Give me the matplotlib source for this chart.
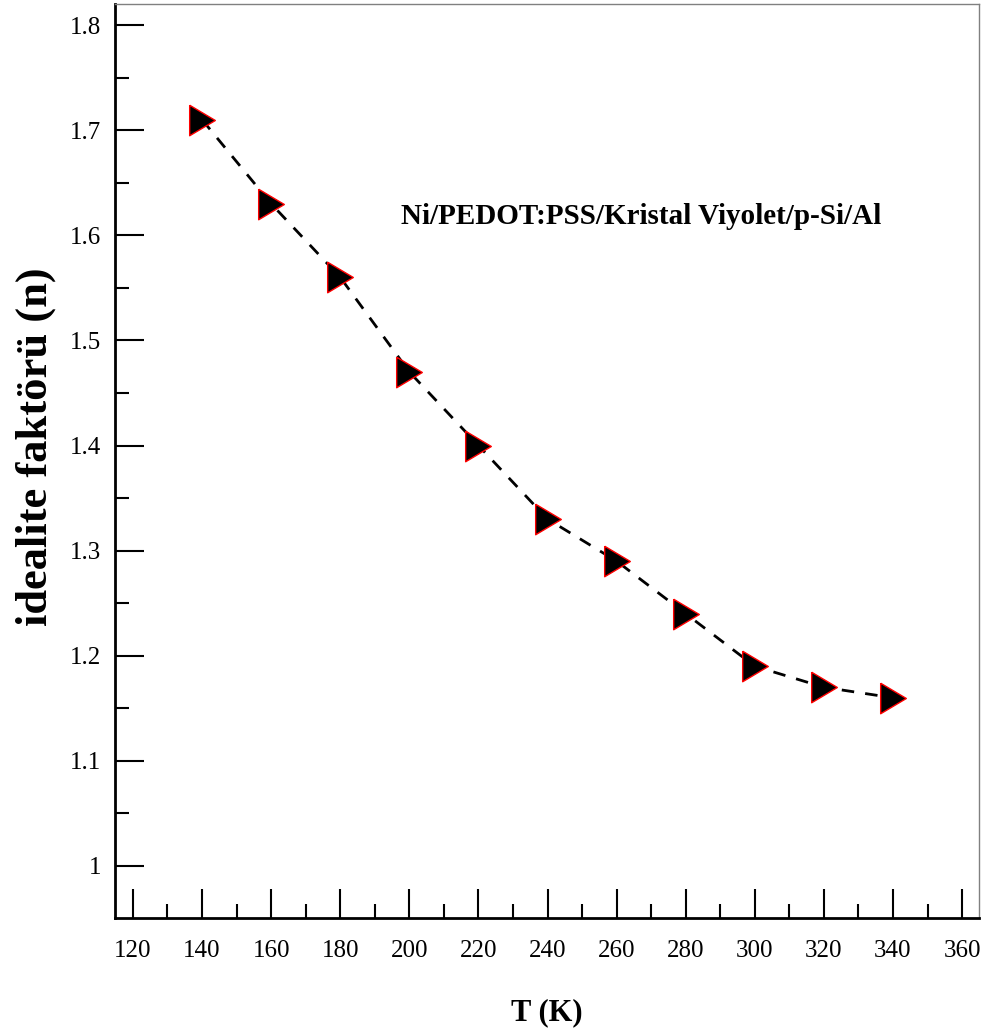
"""idealite faktörü vs T"""
import numpy as np, matplotlib
matplotlib.use('Agg')
import matplotlib.pyplot as plt
from matplotlib.ticker import MultipleLocator
plt.rcParams.update({'font.family':'Liberation Serif','font.size':18})

T=[140,160,180,200,220,240,260,280,300,320,340]
n=[1.71,1.63,1.56,1.47,1.40,1.33,1.29,1.24,1.19,1.17,1.16]
x_ticks=[120,140,160,180,200,220,240,260,280,300,320,340,360]
y_ticks=[1.0,1.1,1.2,1.3,1.4,1.5,1.6,1.7,1.8]
y_labels=['1','1.1','1.2','1.3','1.4','1.5','1.6','1.7','1.8']

# right-pointing triangle, a bit narrower than tall
tri=[(-0.84,1),(0.84,0),(-0.84,-1),(-0.84,1)]

fig=plt.figure(figsize=(9.87,10.34),dpi=100)
ax=fig.add_axes([0.1165,0.1122,0.8754,0.8839])
ax.plot(T,n,color='black',lw=2,ls=(0,(4.5,4)),zorder=2)
ax.plot(T,n,ls='none',marker=tri,ms=22,mfc='black',mec='red',mew=1,zorder=3)
ax.text(197.6,1.6107,'Ni/PEDOT:PSS/Kristal Viyolet/p-Si/Al',fontsize=21,fontweight='bold',ha='left',va='baseline')

ax.set_xlim(114.8,364.9)
ax.set_ylim(0.9505,1.82)
ax.set_xticks(x_ticks)
ax.set_yticks(y_ticks)
ax.set_yticklabels(y_labels)
ax.xaxis.set_minor_locator(MultipleLocator(10))
ax.yaxis.set_minor_locator(MultipleLocator(0.05))
ax.tick_params(which='both',direction='in',width=1.5,top=False,right=False)
ax.tick_params(which='major',length=21,labelsize=18)
ax.tick_params(which='minor',length=10)
ax.tick_params(axis='x',pad=16)
ax.tick_params(axis='y',pad=10)
for s in ['left','bottom']:
    ax.spines[s].set_linewidth(2)
for s in ['top','right']:
    ax.spines[s].set_linewidth(1)
    ax.spines[s].set_color('#808080')
ax.set_xlabel('T (K)',fontsize=22,fontweight='bold',labelpad=26)
ax.set_ylabel('idealite faktörü (n)',fontsize=32,fontweight='bold')
ax.yaxis.set_label_coords(-0.068,0.516)
fig.savefig('out.png',dpi=100)
